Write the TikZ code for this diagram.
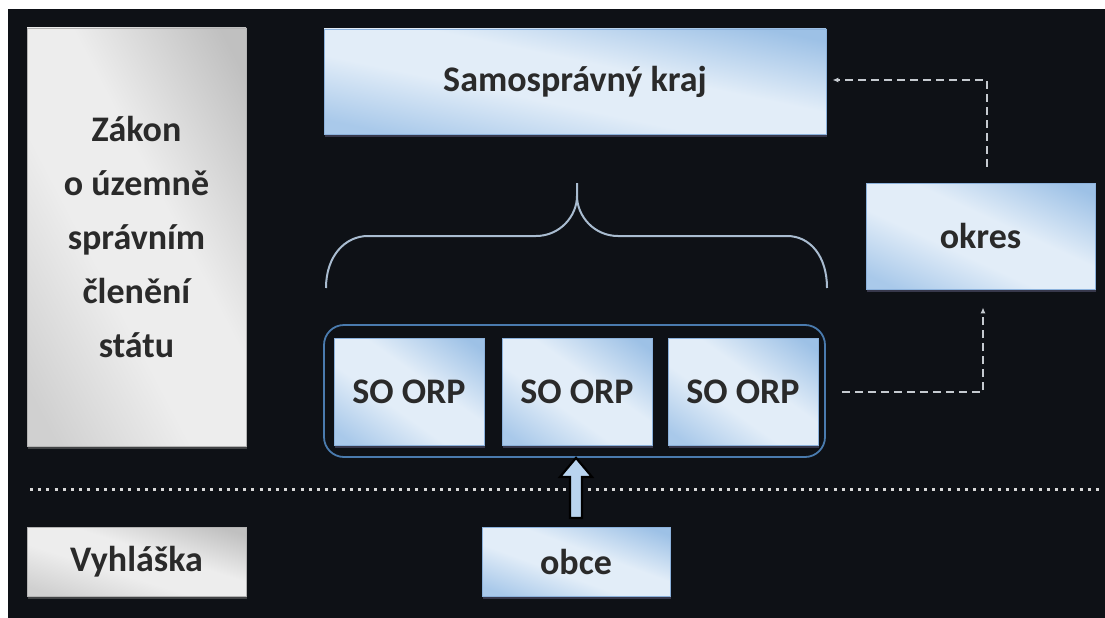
\documentclass[tikz,border=0pt]{standalone}
\usepackage{fontspec}
\setmainfont{Carlito}
\usetikzlibrary{calc,arrows.meta,shadows}
\definecolor{bgdark}{HTML}{0E1116}
\definecolor{bluedark}{HTML}{9DC1E6}
\definecolor{bluemid}{HTML}{E2EDF8}
\definecolor{bluelow}{HTML}{A9C9EA}
\definecolor{blueedge}{HTML}{8CB2DC}
\definecolor{graydark}{HTML}{C0C0C0}
\definecolor{graymid}{HTML}{EDEDED}
\definecolor{graylow}{HTML}{D0D0D0}
\definecolor{grayedge}{HTML}{B4B4B4}
\definecolor{txt}{HTML}{2A2A2A}
\definecolor{grpline}{HTML}{4A7BAE}
\definecolor{bracecol}{HTML}{A9BCD0}
\definecolor{dashcol}{HTML}{C5CAD0}
\definecolor{dotcol}{HTML}{D8D8D8}
\definecolor{arrowblue}{HTML}{B9D4EF}
\pgfdeclareverticalshading{bluegrad}{100bp}{color(0bp)=(bluelow); color(8bp)=(bluelow); color(38bp)=(bluemid); color(60bp)=(bluemid); color(93bp)=(bluedark); color(100bp)=(bluedark)}
\pgfdeclareverticalshading{graygrad}{100bp}{color(0bp)=(graylow); color(8bp)=(graylow); color(38bp)=(graymid); color(60bp)=(graymid); color(93bp)=(graydark); color(100bp)=(graydark)}
\makeatletter
\newcommand\mydiagshade[1]{%
  \begin{pgfscope}%
  \pgfpointdiff{\pgfpointanchor{path picture bounding box}{south west}}{\pgfpointanchor{path picture bounding box}{north east}}%
  \edef\mydsw{\the\pgf@x}\edef\mydsh{\the\pgf@y}%
  \pgfmathsetmacro\mysx{\mydsw/100.375}%
  \pgfmathsetmacro\mysy{\mydsh/100.375}%
  \pgftransformshift{\pgfpointanchor{path picture bounding box}{center}}%
  \pgftransformcm{\mysx}{0}{0}{\mysy}{\pgfpointorigin}%
  \pgftransformrotate{-45}%
  \pgftransformscale{1.45}%
  \pgflowlevelsynccm
  \pgfuseshading{#1}%
  \end{pgfscope}%
}
\makeatother
\tikzset{
  boxtext/.style={font=\bfseries\fontsize{36}{54}\selectfont, text=txt, align=center, inner sep=0pt},
  bluebox/.style={boxtext, draw=blueedge, line width=0.8pt, path picture={\mydiagshade{bluegrad}},
    drop shadow={shadow xshift=1pt, shadow yshift=-3pt, fill=black!60!blue!30!gray, opacity=0.55}},
  graybox/.style={boxtext, draw=grayedge, line width=0.8pt, path picture={\mydiagshade{graygrad}},
    drop shadow={shadow xshift=1pt, shadow yshift=-3pt, fill=gray, opacity=0.45}},
  dashline/.style={draw=dashcol, line width=1.6pt, dash pattern=on 8pt off 5pt, -{Latex[length=6pt,width=5pt]}},
  dotline/.style={draw=dotcol, line width=3pt, dash pattern=on 3pt off 5.2pt},
  bracestyle/.style={draw=bracecol, line width=2pt},
  grpstyle/.style={draw=grpline, line width=1.8pt, rounded corners=20pt, inner sep=0pt},
  blockarrow/.style={draw=black, line width=2.2pt, fill=arrowblue, line join=miter}
}
\begin{document}
\begin{tikzpicture}[x=1pt,y=-1pt]
\useasboundingbox (0,0) rectangle (1105,618);
\fill[white] (0,0) rectangle (1105,618);
\fill[bgdark] (8,9) rectangle (1105,618);

% left gray boxes
\node[graybox, minimum width=219pt, minimum height=418pt] (zakon) at (136.5,237)
  {Zákon\\o územně\\správním\\členění\\státu};
\node[graybox, minimum width=219pt, minimum height=69pt] (vyhl) at (136.5,561.5) {Vyhláška};

% top box
\node[bluebox, minimum width=502pt, minimum height=105pt] (kraj) at (575,81.5) {Samosprávný kraj};

% okres
\node[bluebox, minimum width=229pt, minimum height=106pt] (okres) at (980.5,236) {okres};

% brace
\draw[bracestyle] (326,288) .. controls (326,256) and (345,236) .. (368,236) -- (536,236)
  .. controls (560,236) and (577,216) .. (577,196) -- (577,183);
\draw[bracestyle] (577,196) .. controls (577,216) and (594,236) .. (618,236) -- (787,236)
  .. controls (810,236) and (827,256) .. (827,288);

% group container and SO ORP boxes
\node[grpstyle, minimum width=501pt, minimum height=132pt] (grp) at (574.5,391) {};
\node[bluebox, minimum width=150pt, minimum height=107pt] (orp1) at (409,391.5) {SO ORP};
\node[bluebox, minimum width=150pt, minimum height=107pt] (orp2) at (577,391.5) {SO ORP};
\node[bluebox, minimum width=150pt, minimum height=107pt] (orp3) at (743,391.5) {SO ORP};

% dotted separator
\coordinate (dotL) at (30,489);
\coordinate (dotR) at (1101,489);
\draw[dotline] (dotL) -- (dotR);

% obce
\node[bluebox, minimum width=188pt, minimum height=69pt] (obce) at (576,561.5) {obce};

% block arrow from obce to group
\coordinate (tip) at (obce.north |- grp.south);
\draw[blockarrow] (tip) -- ++(16,19) -- ++(-10,0) -- ++(0,41) -- ++(-12,0) -- ++(0,-41) -- ++(-10,0) -- cycle;

% dashed connectors
\coordinate (dA) at ($(grp.east)+(16,1)$);
\coordinate (dB) at ($(okres.south)+(2.5,18)$);
\draw[dashline] (dA) -| (dB);
\coordinate (dC) at ($(okres.north)+(6.5,-16)$);
\coordinate (dD) at ($(kraj.east)+(6,-1.5)$);
\draw[dashline] (dC) |- (dD);
\end{tikzpicture}
\end{document}
